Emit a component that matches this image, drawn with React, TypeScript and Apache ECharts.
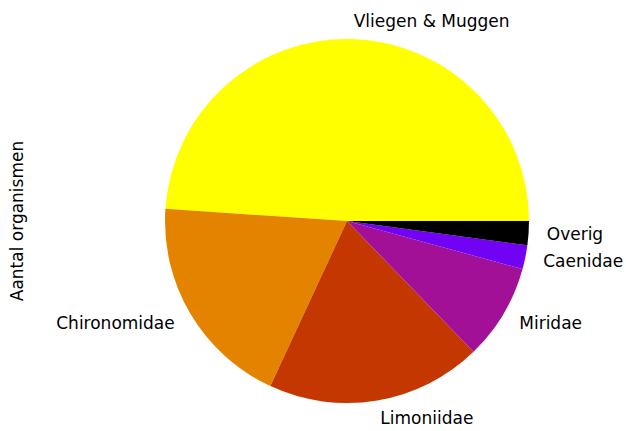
import React, { useEffect, useRef } from "react";
import * as echarts from "echarts";

const categories = ["Vliegen & Muggen", "Chironomidae", "Limoniidae", "Miridae", "Caenidae", "Overig"];
const counts = [23, 9, 9, 4, 1, 1];
const colors = ["#ffff00", "#e48300", "#c53700", "#a11096", "#7202f3", "#000000"];
const yAxisLabel = "Aantal organismen";

const FONT = "DejaVu Sans";
const FS = 17;
const CX = 347;
const CY = 221;
const R = 182;

export default function App() {
  const ref = useRef<HTMLDivElement>(null);
  useEffect(() => {
    if (!ref.current) return;
    const chart = echarts.init(ref.current, undefined, { renderer: "svg" });
    chart.setOption({
      animation: false,
      backgroundColor: "#ffffff",
      series: [
        {
          type: "pie",
          center: [CX, CY],
          radius: [0, R],
          startAngle: 0,
          clockwise: false,
          avoidLabelOverlap: false,
          minShowLabelAngle: 0,
          silent: true,
          itemStyle: { borderWidth: 0 },
          label: {
            show: true,
            position: "outside",
            fontFamily: FONT,
            fontSize: FS,
            color: "#000000",
            distanceToLabelLine: 0,
          },
          labelLine: { show: false, length: R * 0.1, length2: 0 },
          data: categories.map((c, i) => ({
            name: c,
            value: counts[i],
            itemStyle: { color: colors[i] },
          })),
        },
      ],
      graphic: [
        {
          type: "text",
          x: 17,
          y: 221,
          rotation: Math.PI / 2,
          style: {
            text: yAxisLabel,
            fontFamily: FONT,
            fontSize: FS,
            fill: "#000000",
            textAlign: "center",
            textVerticalAlign: "middle",
          },
        },
      ],
    });
    return () => chart.dispose();
  }, []);
  return (
    <div
      ref={ref}
      style={{ position: "fixed", left: 0, top: 0, width: 626, height: 431 }}
    />
  );
}
